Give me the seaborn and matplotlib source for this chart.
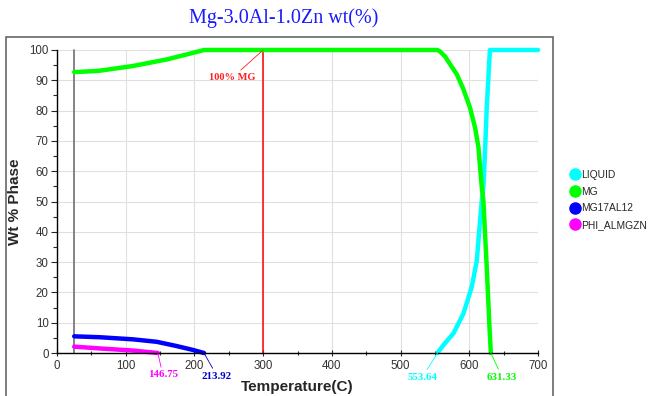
import matplotlib
matplotlib.use("Agg")
import matplotlib.pyplot as plt
from matplotlib.lines import Line2D
from matplotlib.patches import Rectangle
from matplotlib.ticker import MultipleLocator
import seaborn as sns
import pandas as pd

# Données
phases = ["LIQUID", "MG", "MG17AL12", "PHI_ALMGZN"]
couleurs = ["#00ffff", "#00ff00", "#0000ff", "#ff00ff"]

temp_liquid = [553.64, 562.3, 577, 591.4, 603.6, 611, 615.7, 618.2, 620.5, 623, 625.4, 630, 631.33, 700]
pct_liquid = [0, 2.6, 6.5, 13, 21.8, 30.6, 43.8, 50.3, 54.7, 66.8, 81, 100, 100, 100]

temp_mg = [25, 60, 110, 160, 190, 213.92, 300, 400, 500, 553.64, 557.5, 565, 572, 581.8, 591.5,
           601, 608.4, 613.3, 615.7, 618.2, 620.5, 625.4, 629.3, 631.33]
pct_mg = [92.7, 93.1, 94.7, 96.9, 98.6, 100, 100, 100, 100, 100, 99.5, 97.8, 95.3, 92, 87,
          81, 74.4, 67.9, 61.3, 54.7, 50.3, 28.4, 9, 0]

temp_mg17 = [25, 62.6, 111, 145, 174, 198, 213.92]
pct_mg17 = [5.5, 5.2, 4.5, 3.7, 2.3, 1.0, 0]

temp_phi = [25, 62.6, 111, 146.75]
pct_phi = [2.1, 1.5, 0.8, 0]

# points de fin de phase (étiquettes sous l'axe)
fins = [553.64, 631.33, 213.92, 146.75]
decalages = [(-10.8, -17.3), (8.1, -17.3), (9.4, -16.6), (3.6, -15.8)]
couleurs_fin = ["#00ffff", "#00ff00", "#0000cc", "#ff00ff"]

df = pd.concat([
    pd.DataFrame({"temp": temp_liquid, "pct": pct_liquid, "phase": "LIQUID"}),
    pd.DataFrame({"temp": temp_mg, "pct": pct_mg, "phase": "MG"}),
    pd.DataFrame({"temp": temp_mg17, "pct": pct_mg17, "phase": "MG17AL12"}),
    pd.DataFrame({"temp": temp_phi, "pct": pct_phi, "phase": "PHI_ALMGZN"}),
], ignore_index=True)

sns.set_style("white")
plt.rcParams['font.family'] = ['Liberation Sans', 'DejaVu Sans']

fig = plt.figure(figsize=(6.48, 3.96), dpi=100)
ax = fig.add_axes([57/648, 1-353/396, (538-57)/648, (353-50)/396])

# cadre extérieur
fig.patches.append(Rectangle((6/648, -0.2), (553-6)/648, 1.2-37/396, transform=fig.transFigure,
                             fill=False, edgecolor="#666666", lw=1.2))

ax.grid(True, color="#e0e0e0", lw=0.8)
ax.set_axisbelow(True)

# lignes verticales
ax.plot([25, 25], [0, 100], color="#707070", lw=1.2)
ax.plot([300, 300], [0, 100], color="#ff0000", lw=1.1)

sns.lineplot(data=df, x="temp", y="pct", hue="phase", hue_order=phases, palette=couleurs,
             lw=3.2, sort=False, estimator=None, legend=False, ax=ax)
for l in ax.lines:
    l.set_clip_on(False)

ax.set_xlim(0, 700)
ax.set_ylim(0, 100)
ax.xaxis.set_major_locator(MultipleLocator(100))
ax.xaxis.set_minor_locator(MultipleLocator(50))
ax.yaxis.set_major_locator(MultipleLocator(10))
ax.yaxis.set_minor_locator(MultipleLocator(5))
ax.tick_params(axis="both", which="major", labelsize=8.3, labelcolor="#333333", length=4, width=0.8)
ax.tick_params(axis="both", which="minor", length=3, width=0.8)
ax.tick_params(axis="x", which="both", direction="inout", pad=3)
ax.tick_params(axis="y", which="both", direction="out", pad=2)
ax.tick_params(bottom=True, left=True, which="both")
for s in ["top", "right"]:
    ax.spines[s].set_visible(False)
for s in ["left", "bottom"]:
    ax.spines[s].set_color("#000000")
    ax.spines[s].set_linewidth(1)

ax.set_xlabel("Temperature(C)", fontsize=11, fontweight="bold", labelpad=6)
ax.set_ylabel("Wt % Phase", fontsize=11, fontweight="bold", labelpad=5)

fig.text(284/648, 1-18/396, "Mg-3.0Al-1.0Zn wt(%)", ha="center", va="center", fontsize=14.5,
         color="#1a1aff", family="Liberation Serif")

# annotations
ax.annotate("100% MG", xy=(300, 100), xytext=(-22.3, -20), textcoords="offset points",
            ha="center", va="center", fontsize=7.5, fontweight="bold", color="#ff2020",
            family="Liberation Serif",
            arrowprops=dict(arrowstyle="-", color="#ff2020", lw=0.6, shrinkA=0, shrinkB=0))
for t, (dx, dy), c in zip(fins, decalages, couleurs_fin):
    ax.annotate(f"{t:.2f}", xy=(t, 0), xytext=(dx, dy), textcoords="offset points",
                ha="center", va="center", fontsize=7.8, fontweight="bold", color=c,
                family="Liberation Serif", annotation_clip=False,
                arrowprops=dict(arrowstyle="-", color=c, lw=0.6, shrinkA=0, shrinkB=0))

# légende
poignees = [Line2D([], [], marker="o", ls="", markersize=8, color=c) for c in couleurs]
fig.legend(poignees, phases, loc="center left", bbox_to_anchor=(565/648, 1-200/396), frameon=False,
           fontsize=7.4, handletextpad=0.05, labelspacing=0.65, borderpad=0, handlelength=1.0)

fig.savefig("out.png", dpi=100)
